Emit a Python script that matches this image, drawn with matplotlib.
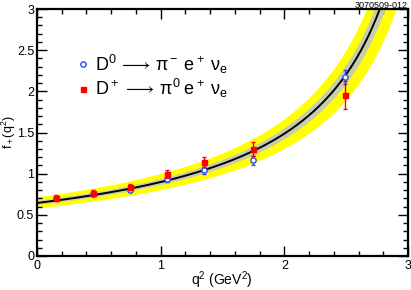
import numpy as np
import matplotlib
matplotlib.use('Agg')
import matplotlib.pyplot as plt
from matplotlib.ticker import MultipleLocator, FuncFormatter
from matplotlib.lines import Line2D

plt.rcParams['font.family'] = ['Liberation Sans', 'DejaVu Sans']
plt.rcParams['mathtext.fontset'] = 'custom'
plt.rcParams['mathtext.rm'] = 'Liberation Sans'
plt.rcParams['mathtext.it'] = 'Liberation Sans:italic'
plt.rcParams['mathtext.fallback'] = 'stixsans'

# ---- data ----
q2_points = [0.15, 0.45, 0.75, 1.05, 1.35, 1.75, 2.49]
d0_f = [0.70, 0.75, 0.80, 0.93, 1.04, 1.16, 2.175]
d0_err = [0.02, 0.02, 0.025, 0.035, 0.04, 0.05, 0.09]
dp_f = [0.71, 0.77, 0.84, 1.00, 1.14, 1.30, 1.96]
dp_err = [0.03, 0.035, 0.04, 0.05, 0.06, 0.08, 0.17]

legend_labels = [r'$\mathrm{D^0\,\longrightarrow\,\pi^-\;e^+\;\nu_e}$',
                 r'$\mathrm{D^+\,\longrightarrow\,\pi^0\;e^+\;\nu_e}$']
x_label = r'q$^2$ (GeV$^2$)'
y_label = r'f$_+$(q$^2$)'
tag_text = '3070509-012'

# theory (pole form) curve parameters
f0_central, mpole2_central = 0.644, 3.53
f0_hi, mpole2_hi = 0.711, 3.50
f0_lo, mpole2_lo = 0.577, 3.60
inner_frac = 0.37

def pole(q2, f0, m2):
    return f0 / (1.0 - q2 / m2)

W, H = 411, 290
fig = plt.figure(figsize=(W/100, H/100), dpi=100)
ax = fig.add_axes([37/W, 1 - 256/H, (408-37)/W, (256-9)/H])

q = np.linspace(0, 3, 400)
fc = pole(q, f0_central, mpole2_central)
fh = pole(q, f0_hi, mpole2_hi)
fl = pole(q, f0_lo, mpole2_lo)
ax.fill_between(q, fl, fh, color='#ffff00', lw=0, zorder=1)
ax.fill_between(q, fc - inner_frac*(fc - fl), fc + inner_frac*(fh - fc),
                color='#c8ccae', lw=0, zorder=2)
ax.plot(q, fc, color='black', lw=1.4, zorder=3)

blue = '#2848ff'
red = '#ff0000'
ax.errorbar(q2_points, d0_f, yerr=d0_err, fmt='o', ms=3.8, mfc='white',
            mec=blue, mew=1.0, ecolor=blue, elinewidth=1.0,
            capsize=1.5, capthick=1.0, zorder=4)
ax.errorbar(q2_points, dp_f, yerr=dp_err, fmt='s', ms=3.6, mfc=red,
            mec=red, ecolor=red, elinewidth=1.0,
            capsize=1.5, capthick=1.0, zorder=5)

ax.set_xlim(0, 3)
ax.set_ylim(0, 3)
ax.xaxis.set_major_locator(MultipleLocator(1))
ax.xaxis.set_minor_locator(MultipleLocator(0.2))
ax.yaxis.set_major_locator(MultipleLocator(0.5))
ax.yaxis.set_minor_locator(MultipleLocator(0.1))
ax.xaxis.set_major_formatter(FuncFormatter(lambda v, p: f'{v:g}'))
ax.yaxis.set_major_formatter(FuncFormatter(lambda v, p: f'{v:g}'))
ax.tick_params(which='both', direction='in', top=True, right=True,
               labelsize=9, width=1.0, pad=3)
ax.tick_params(axis='y', which='major', pad=2)
ax.tick_params(which='major', length=7)
ax.tick_params(which='minor', length=3.5)
for s in ax.spines.values():
    s.set_linewidth(1.6)

fig.text(222/W, 1 - 280/H, x_label, fontsize=10, ha='center', va='center')
fig.text(9/W, 1 - 132/H, y_label, fontsize=9, ha='center', va='center',
         rotation=90)

handles = [Line2D([], [], ls='none', marker='o', ms=3.8, mfc='white',
                  mec=blue, mew=1.0),
           Line2D([], [], ls='none', marker='s', ms=3.6, mfc=red, mec=red)]
leg = ax.legend(handles, legend_labels, loc='upper left',
                bbox_to_anchor=(0.115, 0.824), frameon=False,
                fontsize=13, handlelength=0.4, handletextpad=0.45,
                labelspacing=0.1, borderaxespad=0, borderpad=0)

fig.text(408/W, 1 - 5/H, tag_text, fontsize=6.5, ha='right', va='center')

fig.savefig('out.png', dpi=100)
